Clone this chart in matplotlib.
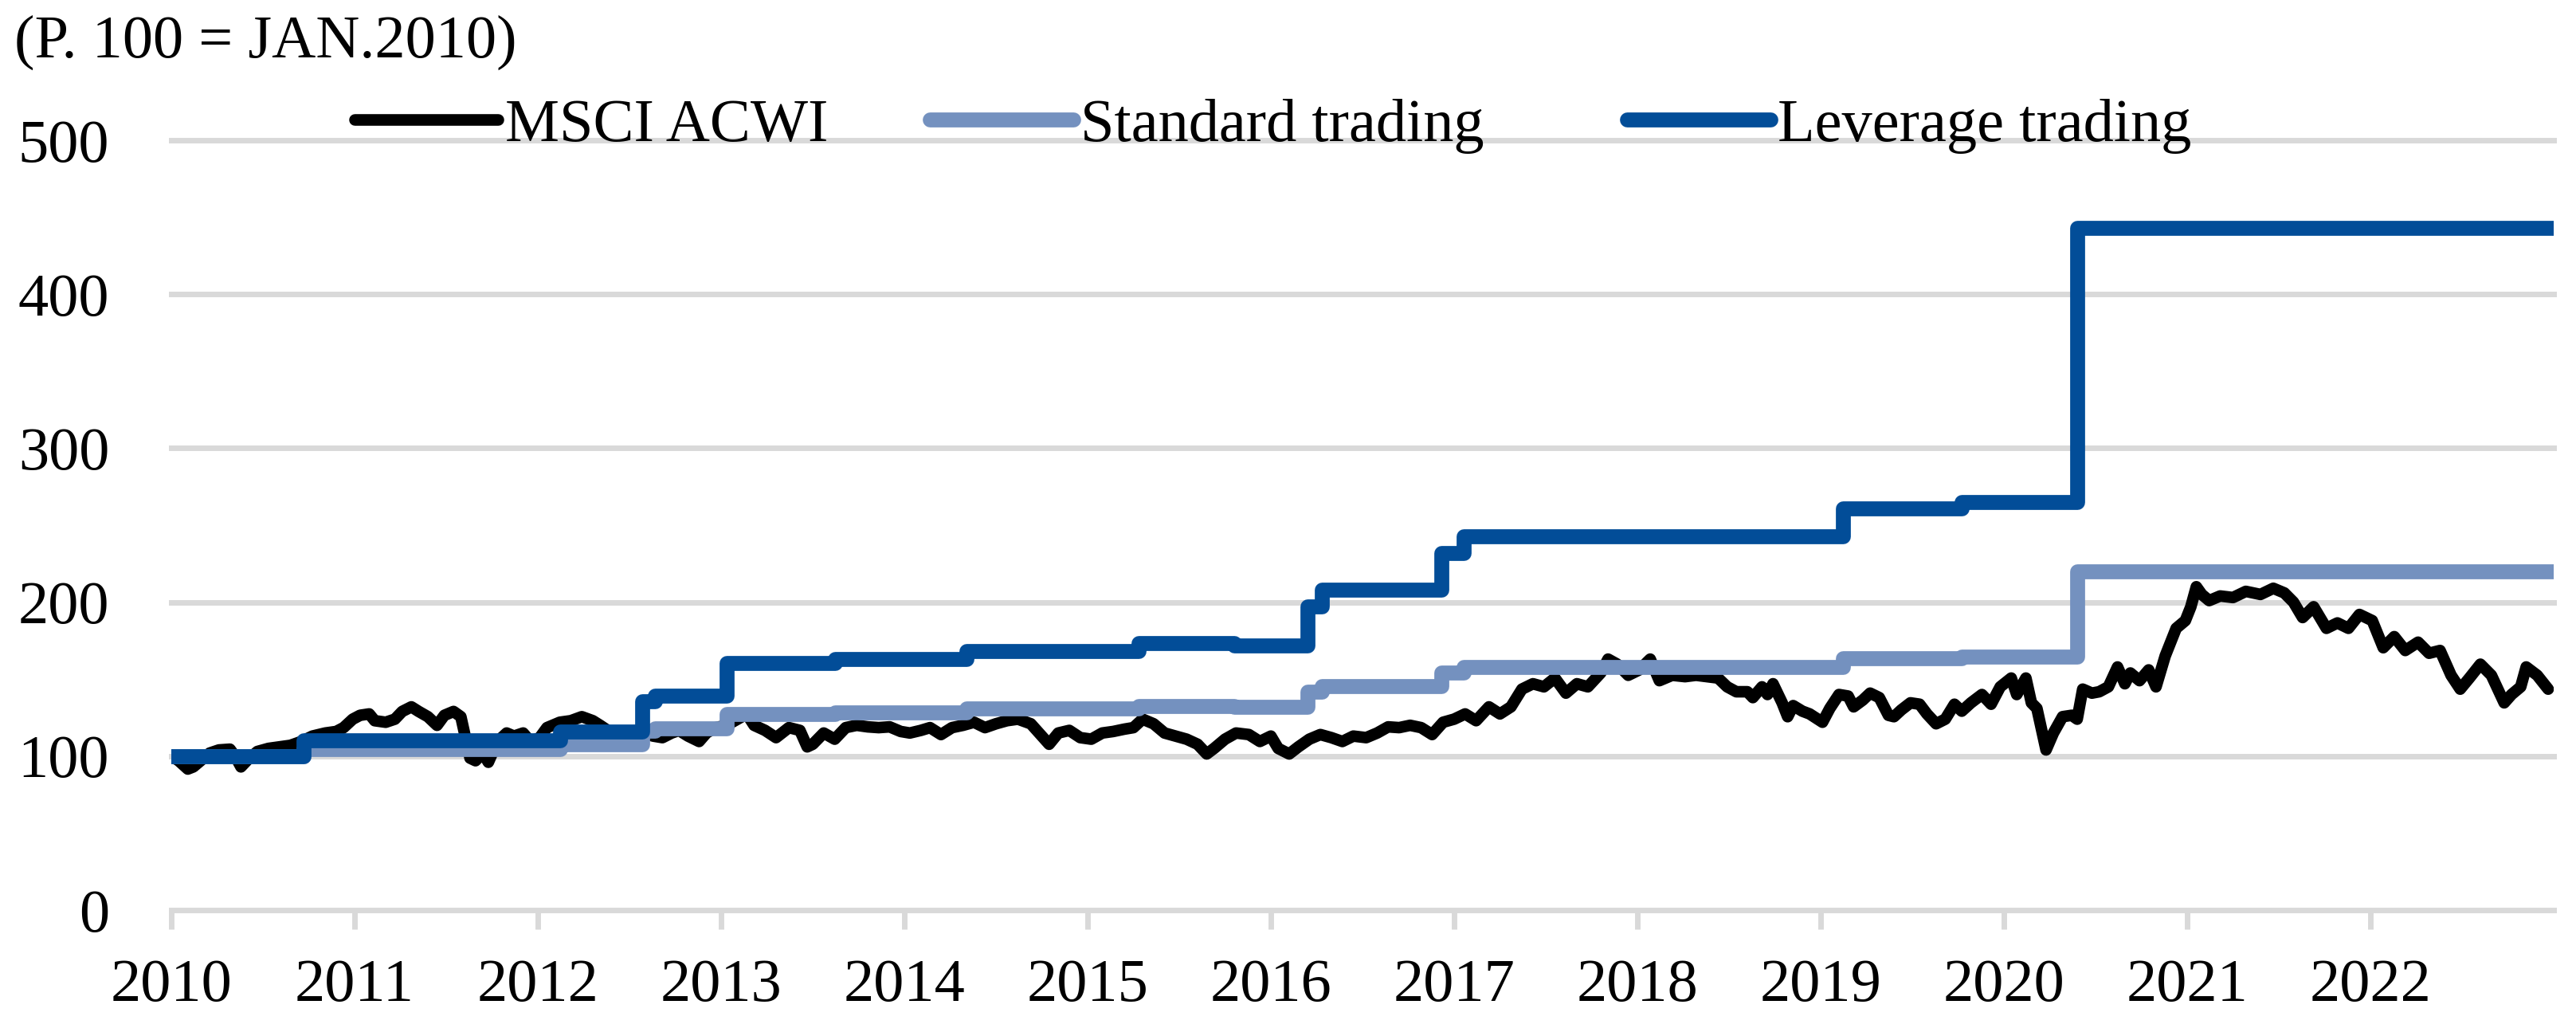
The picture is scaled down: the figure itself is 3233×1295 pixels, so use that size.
import numpy as np
import matplotlib
matplotlib.use('Agg')
import matplotlib.pyplot as plt

# ─── Data (x = decimal year) ─────────────────────────────────────────
msci_t = [2010.00, 2010.04, 2010.09, 2010.12, 2010.16, 2010.21, 2010.26, 2010.32, 2010.35, 2010.38,
          2010.42, 2010.47, 2010.53, 2010.59, 2010.65, 2010.71, 2010.77, 2010.84, 2010.90, 2010.94,
          2010.99, 2011.03, 2011.08, 2011.11, 2011.17, 2011.22, 2011.26, 2011.31, 2011.35, 2011.40,
          2011.45, 2011.49, 2011.54, 2011.58, 2011.61, 2011.63, 2011.66, 2011.70, 2011.73, 2011.78,
          2011.83, 2011.87, 2011.92, 2011.96, 2012.01, 2012.05, 2012.12, 2012.18, 2012.24, 2012.30,
          2012.34, 2012.39, 2012.45, 2012.51, 2012.57, 2012.63, 2012.68, 2012.73, 2012.77, 2012.82,
          2012.88, 2012.92, 2012.97, 2013.03, 2013.09, 2013.14, 2013.18, 2013.24, 2013.30, 2013.37,
          2013.43, 2013.47, 2013.50, 2013.56, 2013.62, 2013.68, 2013.74, 2013.80, 2013.86, 2013.92,
          2013.98, 2014.03, 2014.09, 2014.14, 2014.20, 2014.26, 2014.32, 2014.38, 2014.44, 2014.50,
          2014.56, 2014.62, 2014.69, 2014.75, 2014.79, 2014.84, 2014.90, 2014.96, 2015.02, 2015.08,
          2015.14, 2015.20, 2015.25, 2015.30, 2015.36, 2015.42, 2015.48, 2015.54, 2015.60, 2015.65,
          2015.69, 2015.75, 2015.81, 2015.88, 2015.94, 2016.00, 2016.04, 2016.10, 2016.15, 2016.21,
          2016.27, 2016.33, 2016.39, 2016.45, 2016.52, 2016.58, 2016.64, 2016.70, 2016.76, 2016.82,
          2016.88, 2016.94, 2017.00, 2017.06, 2017.12, 2017.19, 2017.25, 2017.31, 2017.37, 2017.43,
          2017.49, 2017.55, 2017.61, 2017.67, 2017.73, 2017.80, 2017.84, 2017.89, 2017.95, 2018.01,
          2018.07, 2018.12, 2018.19, 2018.26, 2018.32, 2018.38, 2018.44, 2018.49, 2018.54, 2018.60,
          2018.63, 2018.68, 2018.71, 2018.74, 2018.79, 2018.82, 2018.85, 2018.90, 2018.94, 2019.01,
          2019.05, 2019.10, 2019.15, 2019.18, 2019.23, 2019.27, 2019.32, 2019.37, 2019.40, 2019.44,
          2019.49, 2019.54, 2019.58, 2019.63, 2019.68, 2019.73, 2019.77, 2019.82, 2019.88, 2019.93,
          2019.98, 2020.04, 2020.07, 2020.12, 2020.15, 2020.18, 2020.23, 2020.27, 2020.32, 2020.37,
          2020.40, 2020.43, 2020.48, 2020.52, 2020.57, 2020.62, 2020.66, 2020.69, 2020.74, 2020.79,
          2020.83, 2020.88, 2020.91, 2020.94, 2020.99, 2021.02, 2021.05, 2021.08, 2021.12, 2021.18,
          2021.25, 2021.32, 2021.40, 2021.47, 2021.53, 2021.58, 2021.63, 2021.69, 2021.76, 2021.82,
          2021.88, 2021.94, 2022.01, 2022.07, 2022.13, 2022.19, 2022.26, 2022.32, 2022.38, 2022.44,
          2022.49, 2022.54, 2022.60, 2022.66, 2022.73, 2022.77, 2022.82, 2022.85, 2022.91, 2022.97]
msci_v = [100.0, 97.0, 91.6, 93.0, 97.0, 102.0, 104.0, 104.5, 99.6, 93.0,
          98.0, 103.0, 105.0, 106.0, 107.0, 109.5, 113.0, 115.0, 116.0, 118.5,
          124.0, 126.5, 127.4, 123.0, 122.0, 124.0, 129.0, 132.0, 129.0, 125.6,
          120.0, 126.5, 129.0, 125.6, 109.5, 98.7, 97.0, 102.0, 96.0, 109.5,
          115.0, 113.0, 115.0, 109.5, 112.0, 118.5, 122.0, 123.0, 125.6, 123.0,
          120.0, 116.0, 115.0, 116.0, 115.0, 113.0, 112.0, 115.0, 116.7, 113.0,
          109.5, 115.0, 118.5, 120.0, 124.0, 127.4, 120.0, 116.7, 112.0, 118.5,
          116.7, 106.0, 107.7, 115.0, 111.0, 118.5, 120.0, 119.0, 118.5, 119.0,
          116.0, 115.0, 116.7, 118.5, 114.0, 118.5, 120.0, 122.0, 118.5, 121.0,
          123.0, 124.0, 121.0, 113.0, 107.7, 115.0, 116.7, 112.0, 111.0, 115.0,
          116.0, 117.5, 118.5, 124.0, 121.0, 115.0, 113.0, 111.0, 107.7, 101.4,
          105.0, 111.0, 115.0, 114.0, 109.5, 113.0, 105.0, 101.4, 106.0, 111.0,
          114.0, 112.0, 109.5, 113.0, 112.0, 115.0, 119.0, 118.5, 120.0, 118.5,
          114.0, 122.0, 124.0, 127.4, 123.0, 132.0, 127.4, 132.0, 143.5, 147.0,
          145.0, 150.7, 140.9, 147.0, 145.0, 154.0, 163.0, 159.7, 152.5, 156.0,
          163.0, 149.0, 152.5, 151.6, 152.5, 151.6, 150.7, 145.0, 141.8, 141.8,
          138.0, 145.0, 140.0, 147.0, 134.6, 125.6, 132.8, 129.2, 127.4, 122.0,
          131.0, 140.0, 139.0, 132.0, 136.4, 140.9, 138.0, 126.5, 125.6, 130.0,
          134.6, 133.7, 127.4, 121.0, 124.0, 133.7, 129.2, 134.6, 140.0, 133.7,
          145.0, 150.7, 140.0, 150.7, 134.6, 131.0, 104.0, 115.0, 125.6, 126.5,
          124.0, 143.5, 140.9, 141.8, 145.0, 157.9, 147.0, 154.0, 149.0, 156.0,
          145.0, 165.0, 174.0, 183.0, 188.0, 197.0, 210.0, 205.0, 201.0, 204.0,
          203.0, 207.0, 205.0, 209.0, 206.0, 200.0, 190.0, 197.0, 183.0, 186.5,
          183.0, 192.0, 188.0, 170.4, 177.6, 168.6, 174.0, 166.8, 168.6, 152.5,
          143.5, 150.7, 159.7, 152.5, 134.6, 140.0, 145.0, 157.9, 152.5, 143.5]

# trade dates (step changes) shared by both strategies
trade_t = [2010.00, 2010.72, 2012.12, 2012.57, 2012.64, 2013.03, 2013.62, 2014.34, 2015.28,
           2015.80, 2016.20, 2016.28, 2016.93, 2017.05, 2019.12, 2019.77, 2020.40, 2023.00]
standard_v = [100.0, 104.8, 107.6, 116.5, 118.0, 127.3, 128.6, 131.0, 132.4,
              131.9, 141.6, 145.6, 154.3, 157.8, 163.5, 164.6, 219.8, 219.8]
leverage_v = [100.0, 110.0, 115.8, 135.5, 139.0, 160.6, 163.3, 168.3, 173.5,
              171.9, 197.0, 208.0, 232.0, 243.0, 261.0, 265.0, 443.0, 443.0]

years = list(range(2010, 2023))
y_ticks = [0, 100, 200, 300, 400, 500]

# ─── Style ────────────────────────────────────────────────────────────
plt.rcParams['font.family'] = ['Liberation Serif', 'DejaVu Serif']
FS = 55
GRID = '#D9D9D9'
C_MSCI = '#000000'
C_STD = '#7491BF'
C_LEV = '#024D98'

W, H = 3233, 1295
fig = plt.figure(figsize=(W / 100, H / 100), dpi=100)
ax = fig.add_axes([215 / W, 1 - 1142 / H, 2990 / W, (1142 - 176) / H])

l1, = ax.plot(msci_t, msci_v, color=C_MSCI, lw=10.5, solid_joinstyle='round',
              solid_capstyle='round', zorder=3, label='MSCI ACWI')
l2, = ax.plot(trade_t, standard_v, color=C_STD, lw=13.5, drawstyle='steps-post',
              solid_joinstyle='round', solid_capstyle='round', zorder=4, label='Standard trading')
l3, = ax.plot(trade_t, leverage_v, color=C_LEV, lw=13.5, drawstyle='steps-post',
              solid_joinstyle='round', solid_capstyle='round', zorder=5, label='Leverage trading')

ax.set_xlim(2010, 2023)
ax.set_ylim(0, 500)
ax.set_xticks(years)
ax.set_xticklabels([str(y) for y in years])
ax.set_yticks(y_ticks)
ax.set_yticklabels([str(v) for v in y_ticks])

for y in y_ticks[1:]:
    ax.axhline(y, color=GRID, lw=5, zorder=1, clip_on=False)

for s in ['top', 'right', 'left']:
    ax.spines[s].set_visible(False)
ax.spines['bottom'].set_color(GRID)
ax.spines['bottom'].set_linewidth(5)
ax.spines['bottom'].set_zorder(1)

ax.tick_params(axis='x', direction='out', length=17, width=5, color=GRID,
               labelsize=FS, pad=27)
ax.tick_params(axis='y', length=0, labelsize=FS, pad=56)

ax.set_facecolor('none')

fig.text(18 / W, 1 - 72 / H, '(P. 100 = JAN.2010)', fontsize=FS,
         ha='left', va='baseline')

# one legend per entry so each sits where the reference puts it
legend_x = [445, 1167, 2042]
for handle, lx in zip([l1, l2, l3], legend_x):
    leg = fig.legend(handles=[handle], loc='center left',
                     bbox_to_anchor=(lx / W, 1 - 158 / H), frameon=False,
                     fontsize=FS, handlelength=2.35, handletextpad=0.12,
                     borderpad=0, borderaxespad=0)
    for h in leg.legend_handles:
        h.set_solid_capstyle('round')

fig.savefig('out.png', dpi=100, facecolor='white')
